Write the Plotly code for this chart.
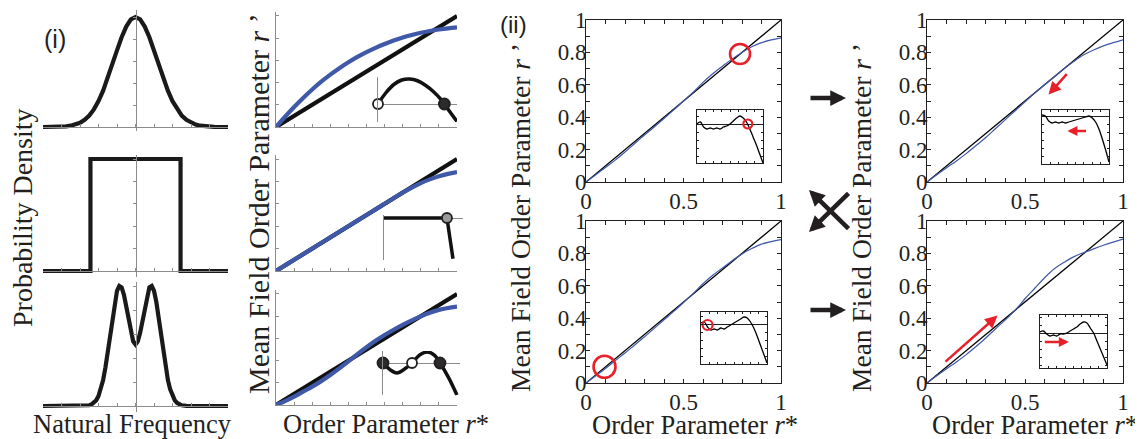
import plotly.graph_objects as go

W, H = 1143, 439          # reference picture size
OX, OY = 8, 8             # page offset of the plot div (body margin)
FW, FH = W - OX, H - OY   # figure size
TXT = "#231f20"
GRAY = "#8c8c8c"
BLUE = "#3f58a8"
RED = "#e8202a"
SERIF = "Liberation Serif"

# ---------------- data ----------------
# panel (i), left column: natural-frequency densities (half curves, mirrored about 0)
dist_x_half = [0.0, 0.05, 0.1, 0.15, 0.2, 0.25, 0.3, 0.35, 0.4, 0.45, 0.5,
               0.55, 0.6, 0.65, 0.7, 0.75, 0.8, 0.85, 0.9, 0.95, 1.0]
gauss_half = [1.0, 0.978, 0.913, 0.816, 0.696, 0.568, 0.443, 0.330, 0.235, 0.160, 0.104,
              0.065, 0.038, 0.022, 0.012, 0.006, 0.003, 0.001, 0.0, 0.0, 0.0]
uniform_x = [-1.0, -0.487, -0.487, 0.487, 0.487, 1.0]
uniform_y = [0, 0, 1, 1, 0, 0]
bimodal_x_half = [0.0, 0.025, 0.05, 0.075, 0.1, 0.125, 0.15, 0.175, 0.2, 0.225, 0.25, 0.275,
                  0.3, 0.325, 0.35, 0.375, 0.4, 0.425, 0.45, 0.475, 0.5, 0.55, 0.6, 0.7,
                  0.8, 0.9, 1.0]
bimodal_half = [0.512, 0.538, 0.610, 0.713, 0.826, 0.926, 0.989, 1.0, 0.960, 0.868, 0.740, 0.595,
                0.451, 0.322, 0.217, 0.138, 0.083, 0.047, 0.025, 0.013, 0.006, 0.001, 0.0, 0.0,
                0.0, 0.0, 0.0]

# panel (i), middle column: mean-field r' vs r*
r_grid = [0.0, 0.05, 0.1, 0.15, 0.2, 0.25, 0.3, 0.35, 0.4, 0.45, 0.5,
          0.55, 0.6, 0.65, 0.7, 0.75, 0.8, 0.85, 0.9, 0.95, 1.0]
diag = [0.0, 1.0]
mf_gauss = [0.0, 0.092, 0.18, 0.262, 0.338, 0.408, 0.472, 0.530, 0.583, 0.631, 0.674,
            0.713, 0.748, 0.779, 0.806, 0.829, 0.849, 0.865, 0.878, 0.889, 0.898]
mf_uniform = [0.0, 0.05, 0.1, 0.15, 0.2, 0.25, 0.3, 0.35, 0.4, 0.45, 0.5,
              0.55, 0.6, 0.65, 0.7, 0.745, 0.785, 0.818, 0.846, 0.867, 0.883]
mf_bimodal = [0.0, 0.035, 0.075, 0.12, 0.165, 0.215, 0.27, 0.33, 0.393, 0.458, 0.52,
              0.578, 0.63, 0.678, 0.722, 0.762, 0.80, 0.832, 0.857, 0.874, 0.886]

# insets of the middle column (r' - r*, arbitrary units)
ins_g_x = [0.0, 0.1, 0.2, 0.3, 0.4, 0.5, 0.6, 0.7, 0.8, 0.84, 0.9, 1.0]
ins_g_y = [0.0, 0.45, 0.78, 0.96, 1.0, 0.93, 0.75, 0.5, 0.17, 0.0, -0.27, -0.7]
ins_g_open_x = [0.0]
ins_g_fill_x = [0.84]
ins_u_x = [0.0, 0.797, 0.873]
ins_u_y = [0.0, 0.0, -0.97]
ins_u_pts_x = [0.797]
ins_b_x = [0.0, 0.09, 0.18, 0.28, 0.377, 0.48, 0.58, 0.67, 0.74, 0.85, 0.96]
ins_b_y = [0.0, -0.6, -0.9, -0.55, 0.0, 0.75, 1.0, 0.7, 0.0, -1.3, -2.9]
ins_b_stable_x = [0.0, 0.74]
ins_b_unstable_x = [0.377]

# panel (ii): four r' vs r* panels (TL, TR, BL, BR)
ii_tl = [0.0, 0.045, 0.09, 0.135, 0.185, 0.238, 0.29, 0.34, 0.392, 0.445, 0.5,
         0.555, 0.615, 0.668, 0.715, 0.76, 0.80, 0.835, 0.86, 0.877, 0.89]
ii_tr = [0.0, 0.045, 0.088, 0.13, 0.175, 0.225, 0.275, 0.33, 0.385, 0.44, 0.495,
         0.55, 0.6, 0.65, 0.70, 0.745, 0.785, 0.815, 0.84, 0.86, 0.878]
ii_bl = [0.0, 0.045, 0.09, 0.138, 0.185, 0.235, 0.285, 0.337, 0.39, 0.442, 0.497,
         0.553, 0.613, 0.665, 0.71, 0.755, 0.797, 0.83, 0.857, 0.873, 0.885]
ii_br = [0.0, 0.045, 0.088, 0.13, 0.175, 0.225, 0.278, 0.335, 0.39, 0.45, 0.52,
         0.585, 0.65, 0.705, 0.745, 0.78, 0.805, 0.828, 0.85, 0.87, 0.888]
# insets of panel (ii) (r' - r*, arbitrary units)
in_tl = [0, 2, -3, -5, -4, -5, -4, -5, -3, -2, 0, 3, 6, 8, 6, 2, -5, -13, -21, -30, -39]
in_tr = [1, 0, -5, -7, -6, -7, -6, -7, -6, -5, -4, -3, -2, -1, 0, -2, -6, -13, -23, -34, -46]
in_bl = [1, 2, -3, -6, -5, -6, -4, -5, -3, -1, 1, 3, 5, 7, 6, 2, -4, -12, -21, -30, -39]
in_br = [1, 2, -1, -3, -2, -3, -1, -1, 0, 2, 4, 6, 9, 11, 10, 5, 0, -8, -16, -24, -32]

major_ticks = [0.0, 0.1, 0.2, 0.3, 0.4, 0.5, 0.6, 0.7, 0.8, 0.9, 1.0]
x_ticktext = ["0", "", "", "", "", "0.5", "", "", "", "", "1"]
y_ticktext = ["0", "", "0.2", "", "0.4", "", "0.6", "", "0.8", "", "1"]

# ---------------- helpers ----------------
fig = go.Figure()
layout = dict(width=FW, height=FH, margin=dict(l=0, r=0, t=0, b=0, pad=0, autoexpand=False),
              paper_bgcolor="white", plot_bgcolor="rgba(0,0,0,0)", showlegend=False,
              font=dict(family=SERIF, color=TXT))
annotations = []
count = [0]


def xp(px):
    return (px - OX) / FW


def yp(py):
    return 1 - (py - OY) / FH


def mirror_x(half):
    return [-v for v in reversed(half[1:])] + list(half)


def mirror_y(half):
    return list(reversed(half[1:])) + list(half)


def dom_x(p0, p1, rng):
    # p0 = pixel of value 0, p1 = pixel of value 1
    s = p1 - p0
    return [xp(p0 + rng[0] * s), xp(p0 + rng[1] * s)]


def dom_y(p0, p1, rng):
    s = p1 - p0
    return [yp(p0 + rng[0] * s), yp(p0 + rng[1] * s)]


def new_axes(xdom, ydom, xr, yr, xa=None, ya=None):
    count[0] += 1
    s = "" if count[0] == 1 else str(count[0])
    xb = dict(domain=xdom, range=xr, anchor="y" + s, showgrid=False, zeroline=False,
              showticklabels=False, ticks="", showline=False, fixedrange=True, automargin=False)
    yb = dict(domain=ydom, range=yr, anchor="x" + s, showgrid=False, zeroline=False,
              showticklabels=False, ticks="", showline=False, fixedrange=True, automargin=False)
    xb.update(xa or {})
    yb.update(ya or {})
    layout["xaxis" + s] = xb
    layout["yaxis" + s] = yb
    return "x" + s, "y" + s


def line(xn, yn, x, y, color, width, shape="linear"):
    fig.add_trace(go.Scatter(x=x, y=y, xaxis=xn, yaxis=yn, mode="lines",
                             line=dict(color=color, width=width, shape=shape),
                             hoverinfo="skip"))


def markers(xn, yn, x, y, fill, size=10, lc=TXT, lw=1.8):
    fig.add_trace(go.Scatter(x=x, y=y, xaxis=xn, yaxis=yn, mode="markers", cliponaxis=False,
                             marker=dict(color=fill, size=size, symbol="circle",
                                         line=dict(color=lc, width=lw)),
                             hoverinfo="skip"))


def text(x, y, s, size, angle=0, family=SERIF):
    annotations.append(dict(x=xp(x), y=yp(y), xref="paper", yref="paper", text=s,
                            showarrow=False, textangle=angle, xanchor="center",
                            yanchor="middle", font=dict(family=family, size=size, color=TXT)))


def arrow_data(xn, yn, head, tail, color, width, size=1.0):
    annotations.append(dict(x=head[0], y=head[1], ax=tail[0], ay=tail[1], xref=xn, yref=yn,
                            axref=xn, ayref=yn, text="", showarrow=True, arrowhead=2,
                            arrowsize=size, arrowwidth=width, arrowcolor=color, standoff=0))


def arrow_px(head, tail, color, width, size=1.0):
    annotations.append(dict(x=xp(head[0]), y=yp(head[1]), xref="paper", yref="paper",
                            ax=tail[0] - head[0], ay=tail[1] - head[1], text="",
                            showarrow=True, arrowhead=2, arrowsize=size, arrowwidth=width,
                            arrowcolor=color, standoff=0))


# ---------------- panel (i): distributions ----------------
dist_rows = [
    (mirror_x(dist_x_half), mirror_y(gauss_half), 127, 17, [-0.04, 1.06]),
    (uniform_x, uniform_y, 271, 159, [-0.05, 1.04]),
    (mirror_x(bimodal_x_half), mirror_y(bimodal_half), 406, 286, [-0.05, 1.03]),
]
for xs, ys, p0, p1, yr in dist_rows:
    xn, yn = new_axes(
        [xp(43), xp(228)], dom_y(p0, p1, yr), [-1, 1], yr,
        xa=dict(anchor="free", position=yp(p0), showline=True, linecolor=GRAY, linewidth=1,
                ticks="inside", ticklen=3, tickcolor=GRAY, tickmode="linear", tick0=0, dtick=0.2),
        ya=dict(anchor="free", position=xp(135.5), showline=True, linecolor=GRAY, linewidth=1,
                ticks="outside", ticklen=3, tickcolor=GRAY, tickmode="linear", tick0=0, dtick=0.2))
    line(xn, yn, xs, ys, "#1a1a1a", 4.2)

# ---------------- panel (i): mean-field curves ----------------
mf_rows = [(mf_gauss, 127, 16), (mf_uniform, 271, 159), (mf_bimodal, 405, 294)]
for vals, p0, p1 in mf_rows:
    xn, yn = new_axes(
        [xp(276), xp(457)], dom_y(p0, p1, [0, 1.035]), [0, 1], [0, 1.035],
        xa=dict(showline=True, linecolor=GRAY, linewidth=1, ticks="inside", ticklen=3,
                tickcolor=GRAY, tickmode="linear", tick0=0, dtick=0.1),
        ya=dict(showline=True, linecolor=GRAY, linewidth=1, ticks="inside", ticklen=3,
                tickcolor=GRAY, tickmode="linear", tick0=0, dtick=0.2))
    line(xn, yn, diag, diag, "#111111", 4.2)
    line(xn, yn, r_grid, vals, BLUE, 4.2, "spline")

ins_axis_y = dict(showline=True, linecolor=GRAY, linewidth=1, zeroline=True,
                  zerolinecolor=GRAY, zerolinewidth=1)

# inset 1 (Gaussian): zero at pixel 104, +1 at pixel 79
yr = [-0.72, 1.08]
xn, yn = new_axes(dom_x(378, 457, [0, 1]), dom_y(104, 79, yr), [0, 1], yr, ya=ins_axis_y)
line(xn, yn, ins_g_x, ins_g_y, "#111111", 3.5, "spline")
markers(xn, yn, ins_g_open_x, [0], "white", 10)
markers(xn, yn, ins_g_fill_x, [0], "#2b2b2b", 11)

# inset 2 (uniform): zero at pixel 218, -1 at pixel 260 (=> +1 at 176)
yr = [-1.0, 0.06]
xn, yn = new_axes(dom_x(384, 463, [0, 1]), dom_y(218, 176, yr), [0, 1], yr, ya=ins_axis_y)
line(xn, yn, ins_u_x, ins_u_y, "#111111", 3.5)
markers(xn, yn, ins_u_pts_x, [0], "#9a9a9a", 10)

# inset 3 (bimodal): zero at pixel 363, +1 at pixel 352
yr = [-2.95, 1.1]
xn, yn = new_axes(dom_x(383, 460, [0, 1]), dom_y(363, 352, yr), [0, 1], yr, ya=ins_axis_y)
line(xn, yn, ins_b_x, ins_b_y, "#111111", 3.5, "spline")
markers(xn, yn, ins_b_stable_x, [0, 0], "#2b2b2b", 11)
markers(xn, yn, ins_b_unstable_x, [0], "white", 10)

# ---------------- panel (ii) ----------------
tickfont = dict(family=SERIF, size=23, color=TXT)
box_x = dict(showline=True, mirror="ticks", linecolor=TXT, linewidth=1, ticks="inside",
             ticklen=4, tickcolor=TXT, tickmode="array", tickvals=major_ticks,
             ticktext=x_ticktext, showticklabels=True, tickfont=tickfont, ticklabelstandoff=-2)
box_y = dict(box_x, ticktext=y_ticktext, ticklabelstandoff=-6)

panels = [
    ("tl", ii_tl, (586, 781), (20, 182), in_tl, (697, 763), (110, 163), 124),
    ("tr", ii_tr, (927, 1123), (20, 182), in_tr, (1042, 1109), (110, 164), 116),
    ("bl", ii_bl, (586, 781), (221, 383), in_bl, (701, 767), (312, 364), 324),
    ("br", ii_br, (927, 1123), (221, 383), in_br, (1040, 1107), (315, 368), 333),
]
inset_refs = {}
main_refs = {}
for name, vals, (xa0, xa1), (ya0, ya1), ins, (ix0, ix1), (iy0, iy1), iz in panels:
    xn, yn = new_axes([xp(xa0), xp(xa1)], [yp(ya1), yp(ya0)], [0, 1], [0, 1],
                      xa=box_x, ya=box_y)
    main_refs[name] = (xn, yn)
    line(xn, yn, diag, diag, "#000000", 1.3)
    line(xn, yn, r_grid, vals, BLUE, 1.2, "spline")
    top_v = iz - iy0
    bot_v = iz - iy1
    xin, yin = new_axes(
        [xp(ix0), xp(ix1)], [yp(iy1), yp(iy0)], [0, 1], [bot_v, top_v],
        xa=dict(showline=True, mirror="ticks", linecolor=TXT, linewidth=1, ticks="inside",
                ticklen=2, tickcolor=TXT, tickmode="linear", tick0=0, dtick=0.125),
        ya=dict(showline=True, mirror="ticks", linecolor=TXT, linewidth=1, ticks="inside",
                ticklen=2, tickcolor=TXT, tickmode="linear", tick0=0, dtick=8,
                zeroline=True, zerolinecolor=TXT, zerolinewidth=1))
    inset_refs[name] = (xin, yin)
    line(xin, yin, r_grid, ins, "#000000", 1.3, "spline")

# red rings (transparent fill, red outline)
CLEAR = "rgba(0,0,0,0)"
xn, yn = main_refs["tl"]
markers(xn, yn, [0.79], [0.79], CLEAR, 20, RED, 2.6)
xn, yn = main_refs["bl"]
markers(xn, yn, [0.095], [0.1], CLEAR, 22, RED, 2.6)
xn, yn = inset_refs["tl"]
markers(xn, yn, [0.77], [0], CLEAR, 9, RED, 2.2)
xn, yn = inset_refs["bl"]
markers(xn, yn, [0.1], [-1], CLEAR, 10, RED, 2.2)

xn, yn = main_refs["tr"]
arrow_data(xn, yn, (0.62, 0.54), (0.72, 0.675), RED, 2.5, 1.0)
xn, yn = main_refs["br"]
arrow_data(xn, yn, (0.36, 0.416), (0.087, 0.124), RED, 2.5, 1.0)
xn, yn = inset_refs["tr"]
arrow_data(xn, yn, (0.38, -15), (0.68, -15), RED, 2.5, 0.8)
xn, yn = inset_refs["br"]
arrow_data(xn, yn, (0.43, -9), (0.05, -9), RED, 2.5, 0.8)

# black arrows between columns of (ii)
arrow_px((846, 98), (809, 98), TXT, 4.5, 0.7)
arrow_px((846, 310), (809, 310), TXT, 4.5, 0.7)
arrow_px((809, 190), (850, 230), TXT, 4.5, 0.7)
arrow_px((809, 232), (850, 192), TXT, 4.5, 0.7)

# ---------------- texts ----------------
text(55, 39, "(i)", 25, family="Liberation Sans")
text(513, 25, "(ii)", 24, family="Liberation Sans")
text(132, 424, "Natural Frequency", 26.5)
text(22, 218, "Probability Density", 28, angle=-90)
text(258, 204, "Mean Field Order Parameter <i>r</i> ’", 30, angle=-90)
text(386, 424, "Order Parameter <i>r</i>*", 26.5)
text(520, 218, "Mean Field Order Parameter <i>r</i> ’", 27.5, angle=-90)
text(861, 218, "Mean Field Order Parameter <i>r</i> ’", 27.5, angle=-90)
text(695, 425, "Order Parameter <i>r</i>*", 26.5)
text(1035, 425, "Order Parameter <i>r</i>*", 26.5)

layout["annotations"] = annotations
fig.update_layout(layout)
fig.write_html("out.html")
